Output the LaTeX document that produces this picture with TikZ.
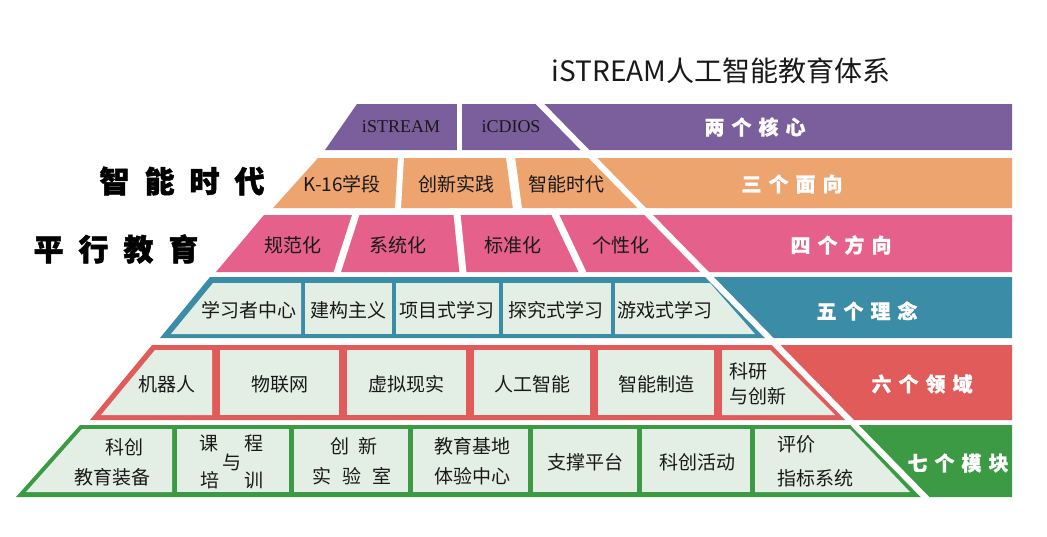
\documentclass[tikz,border=0pt]{standalone}
\usepackage{fontspec}
\setmainfont{Liberation Serif}
\newfontfamily\cjk{Noto Sans CJK SC}
\newfontfamily\cjkheavy[FakeBold=1.6]{Noto Sans CJK SC}
\newfontfamily\cjkbandf[FakeBold=0.8]{Noto Sans CJK SC}
\definecolor{cpurple}{HTML}{7B5E9C}
\definecolor{corange}{HTML}{EDA46E}
\definecolor{cpink}{HTML}{E5608A}
\definecolor{cteal}{HTML}{3A8CA7}
\definecolor{cred}{HTML}{E25B5B}
\definecolor{cgreen}{HTML}{3C9A45}
\definecolor{cellfill}{HTML}{E3EEE4}
\tikzset{
  celltext/.style={font=\cjk\fontsize{19pt}{23pt}\selectfont, text=black!90, inner sep=0pt},
  latintext/.style={font=\fontsize{18pt}{21pt}\selectfont, text=black!90, inner sep=0pt},
  bandtext/.style={font=\cjkbandf\bfseries\fontsize{20pt}{24pt}\selectfont, text=white, inner sep=0pt},
  bigtext/.style={font=\cjkheavy\bfseries\fontsize{30pt}{34pt}\selectfont, text=black, inner sep=0pt},
  titletext/.style={font=\cjk\fontsize{28pt}{32pt}\selectfont, text=black!90, inner sep=0pt},
  gapline/.style={draw=white, line width=#1},
  gapline/.default=6pt,
  lightcell/.style={fill=cellfill},
}
\begin{document}
\begin{tikzpicture}[x=1pt,y=-1pt]
\fill[white] (0,0) rectangle (1047,536);
\useasboundingbox (0,0) rectangle (1047,536);

% title
\node[titletext] (title) at (721,71) {iSTREAM人工智能教育体系};

% left big text
\node[bigtext] (era) at (182,181) {智\kern15pt 能\kern15pt 时\kern15pt 代};
\node[bigtext] (par) at (116,249) {平\kern15pt 行\kern15pt 教\kern15pt 育};

% ---------- row 1 purple
\fill[cpurple] (357,104) -- (1012,104) -- (1012,150) -- (325,150) -- cycle;
\draw[gapline=5pt] (459.5,103) -- (459.5,151);
% ---------- row 2 orange
\fill[corange] (318,158) -- (1012,158) -- (1012,208) -- (273,208) -- cycle;
\draw[gapline=6pt] (401,157) -- (398,209);
\draw[gapline=9pt] (510.5,157) -- (517.5,209);
% ---------- row 3 pink
\fill[cpink] (264,215) -- (1012,215) -- (1012,272) -- (216,272) -- cycle;
\draw[gapline=7pt] (356,214) -- (337,273);
\draw[gapline=7pt] (457,214) -- (463,273);
\draw[gapline=7pt] (555,214) -- (583,273);
% ---------- row 4 teal
\fill[cteal] (210,277) -- (1012,277) -- (1012,338) -- (160,338) -- cycle;
\fill[lightcell] (213,283) -- (301,283) -- (301,334) -- (171,334) -- cycle;
\fill[lightcell] (305,283) rectangle (392,334);
\fill[lightcell] (396,283) rectangle (499,334);
\fill[lightcell] (503,283) rectangle (611,334);
\fill[lightcell] (615,283) -- (710,283) -- (755,334) -- (615,334) -- cycle;
% ---------- row 5 red
\fill[cred] (152,345) -- (1012,345) -- (1012,420) -- (90,420) -- cycle;
\fill[lightcell] (155,350) -- (212,350) -- (212,415) -- (101,415) -- cycle;
\fill[lightcell] (220,350) rectangle (339,415);
\fill[lightcell] (347,350) rectangle (466,415);
\fill[lightcell] (474,350) rectangle (590,415);
\fill[lightcell] (598,350) rectangle (714,415);
\fill[lightcell] (722,350) -- (770,350) -- (835,415) -- (722,415) -- cycle;
% ---------- row 6 green
\fill[cgreen] (80,425) -- (1012,425) -- (1012,497) -- (16,497) -- cycle;
\fill[lightcell] (82,429) -- (172,429) -- (172,492) -- (26,492) -- cycle;
\fill[lightcell] (177,429) rectangle (289,492);
\fill[lightcell] (294,429) rectangle (408,492);
\fill[lightcell] (413,429) rectangle (528,492);
\fill[lightcell] (533,429) rectangle (637,492);
\fill[lightcell] (642,429) rectangle (750,492);
\fill[lightcell] (755,429) -- (850,429) -- (910,492) -- (755,492) -- cycle;

% main diagonal
\draw[gapline=6pt] (538,102) -- (927,499);

% ---------- texts row 1
\node[latintext] (r1a) at (401,127) {iSTREAM};
\node[latintext] (r1b) at (511,127) {iCDIOS};
\node[bandtext] (b1) at (755,127) {两\kern7pt 个\kern7pt 核\kern7pt 心};
% row 2
\node[celltext] (r2a) at (342,184) {K-16学段};
\node[celltext] (r2b) at (456,184) {创新实践};
\node[celltext] (r2c) at (566,184) {智能时代};
\node[bandtext] (b2) at (792,184) {三\kern7pt 个\kern7pt 面\kern7pt 向};
% row 3
\node[celltext] (r3a) at (293,245) {规范化};
\node[celltext] (r3b) at (398,245) {系统化};
\node[celltext] (r3c) at (513,245) {标准化};
\node[celltext] (r3d) at (621,245) {个性化};
\node[bandtext] (b3) at (841,245) {四\kern7pt 个\kern7pt 方\kern7pt 向};
% row 4
\node[celltext] (r4a) at (249,310) {学习者中心};
\node[celltext] (r4b) at (348,310) {建构主义};
\node[celltext] (r4c) at (447,310) {项目式学习};
\node[celltext] (r4d) at (556,310) {探究式学习};
\node[celltext] (r4e) at (665,310) {游戏式学习};
\node[bandtext] (b4) at (867,311) {五\kern7pt 个\kern7pt 理\kern7pt 念};
% row 5
\node[celltext] (r5a) at (167,384) {机器人};
\node[celltext] (r5b) at (280,384) {物联网};
\node[celltext] (r5c) at (406,384) {虚拟现实};
\node[celltext] (r5d) at (532,384) {人工智能};
\node[celltext] (r5e) at (656,384) {智能制造};
\node[celltext, anchor=west] (r5f1) at (729,371) {科研};
\node[celltext, anchor=west] (r5f2) at (729,396) {与创新};
\node[bandtext] (b5) at (922,384) {六\kern7pt 个\kern7pt 领\kern7pt 域};
% row 6
\node[celltext] (r6a1) at (124,447) {科创};
\node[celltext] (r6a2) at (112,477) {教育装备};
\node[celltext] (r6b1) at (209,443) {课};
\node[celltext] (r6b2) at (254,443) {程};
\node[celltext] (r6b3) at (232,462) {与};
\node[celltext] (r6b4) at (210,480) {培};
\node[celltext] (r6b5) at (254,480) {训};
\node[celltext] (r6c1) at (354,446) {创\kern10pt 新};
\node[celltext] (r6c2) at (352,476) {实\kern11pt 验\kern11pt 室};
\node[celltext] (r6d1) at (472,446) {教育基地};
\node[celltext] (r6d2) at (472,476) {体验中心};
\node[celltext] (r6e) at (585,462) {支撑平台};
\node[celltext] (r6f) at (697,462) {科创活动};
\node[celltext, anchor=west] (r6g1) at (777,444) {评价};
\node[celltext, anchor=west] (r6g2) at (777,478) {指标系统};
\node[bandtext] (b6) at (958,463) {七\kern7pt 个\kern7pt 模\kern7pt 块};
\end{tikzpicture}
\end{document}
